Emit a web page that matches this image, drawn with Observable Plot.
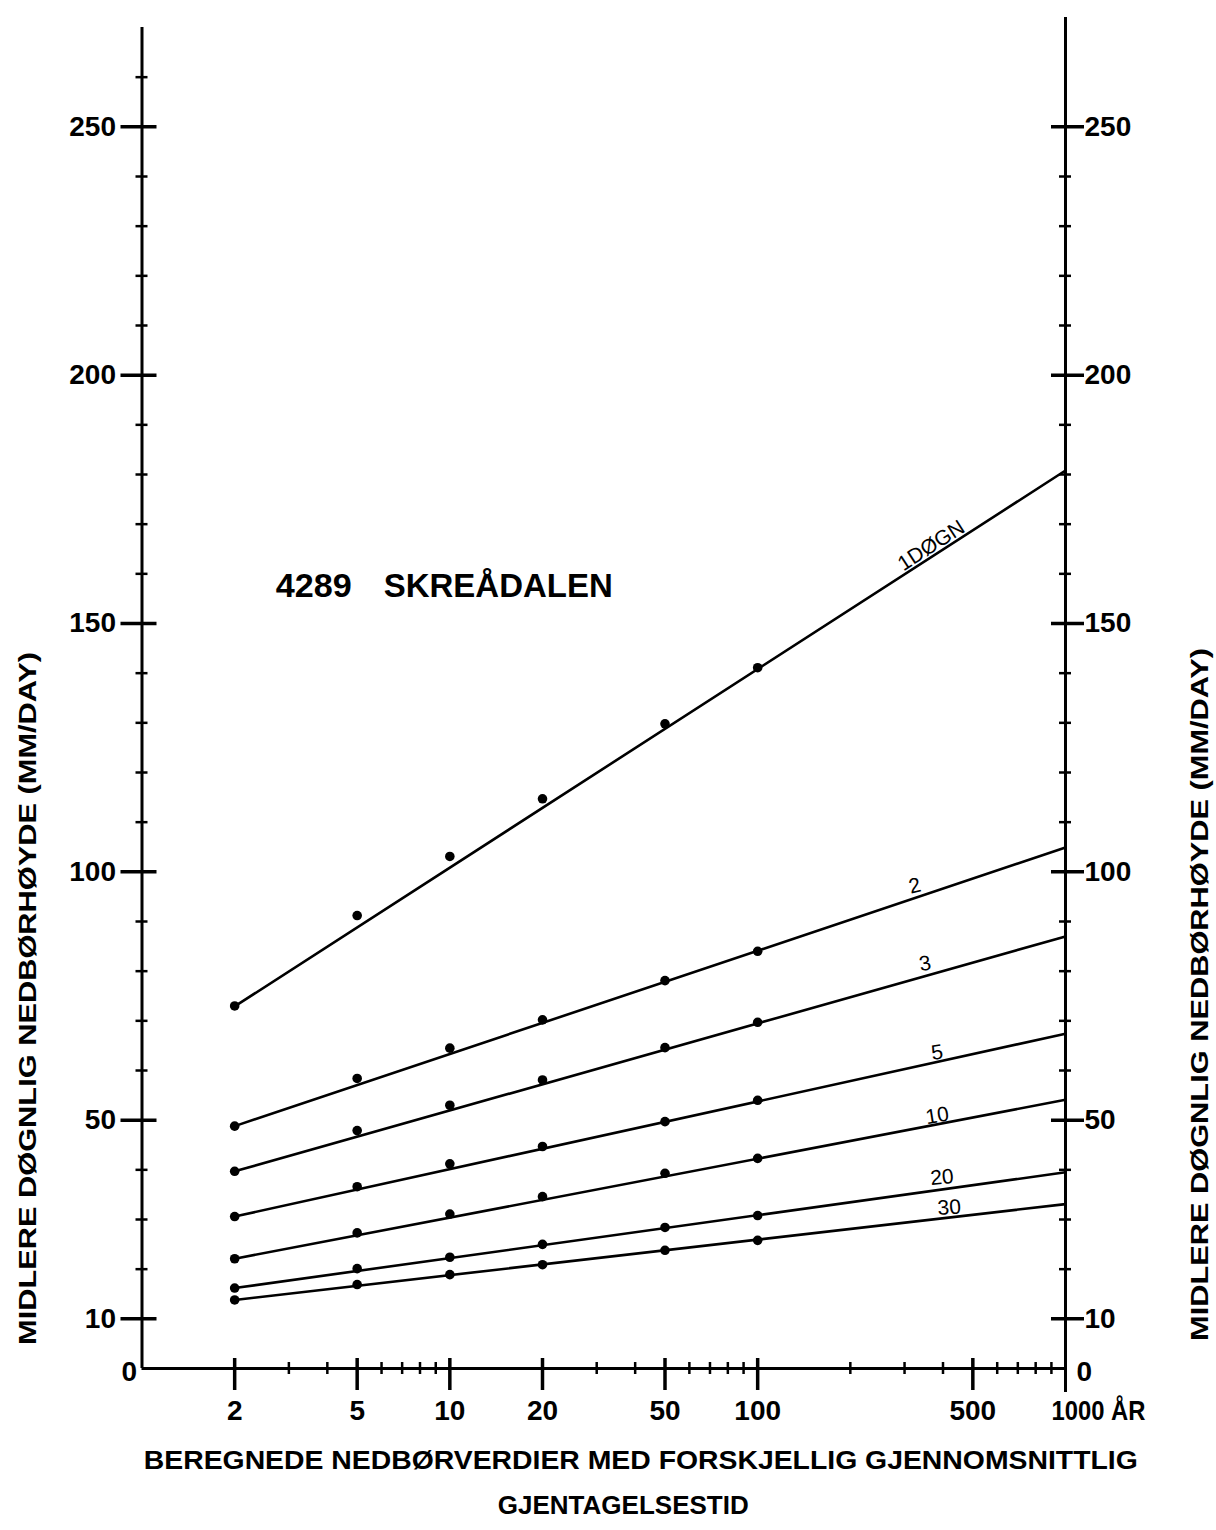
<!DOCTYPE html>
<html>
<head>
<meta charset="utf-8">
<script src="https://cdn.jsdelivr.net/npm/d3@7"></script>
<script src="https://cdn.jsdelivr.net/npm/@observablehq/plot@0.6"></script>
<style>
  html, body { margin: 0; padding: 0; background: #fff; }
  #chart svg { display: block; }
</style>
</head>
<body>
<div id="chart"></div>
<script>
// Station and axis texts
const stationTitle = ["4289", "SKREÅDALEN"];
const yTitle = "MIDLERE DØGNLIG NEDBØRHØYDE (MM/DAY)";
const xTitle1 = "BEREGNEDE NEDBØRVERDIER MED FORSKJELLIG GJENNOMSNITTLIG";
const xTitle2 = "GJENTAGELSESTID";
const xLastLabel = "1000 ÅR";

// Return periods (years) of the computed values
const periods = [2, 5, 10, 20, 50, 100];

// Duration labels (days) of each series
const seriesNames = ["1DØGN", "2", "3", "5", "10", "20", "30"];

// Computed mean daily precipitation (mm/day) at each return period
const dur1 = [73.0, 91.2, 103.1, 114.7, 129.8, 141.1];
const dur2 = [48.8, 58.4, 64.5, 70.2, 78.1, 84.0];
const dur3 = [39.7, 47.9, 53.0, 58.1, 64.6, 69.7];
const dur5 = [30.6, 36.6, 41.2, 44.7, 49.7, 54.0];
const dur10 = [22.1, 27.3, 31.1, 34.6, 39.3, 42.3];
const dur20 = [16.2, 20.1, 22.4, 25.0, 28.4, 30.8];
const dur30 = [13.8, 16.9, 18.9, 20.9, 23.8, 25.8];

// Fitted straight lines: value at 2 years and at 1000 years
const fitPeriods = [2, 1000];
const fit1 = [72.9, 180.8];
const fit2 = [48.8, 104.9];
const fit3 = [39.7, 87.0];
const fit5 = [30.6, 67.4];
const fit10 = [22.1, 54.1];
const fit20 = [16.2, 39.5];
const fit30 = [13.8, 33.1];

// Axis ticks
const yLabelled = [10, 50, 100, 150, 200, 250];
const yMinorLeft = [20, 30, 40, 60, 70, 80, 90, 110, 120, 130, 140, 160, 170, 180, 190, 210, 220, 230, 240, 260];
const yMinorRight = [20, 30, 40, 60, 70, 80, 90, 110, 120, 130, 140, 160, 170, 180, 190, 210, 220, 230, 240];
const xLabelled = [2, 5, 10, 20, 50, 100, 500];
const xMinor = [3, 4, 6, 7, 8, 9, 30, 40, 60, 70, 80, 90, 200, 300, 400, 600, 700, 800, 900];

// Where each series name sits along its line (return period, mm/day, angle)
const labelPeriod = [366, 324, 350, 383, 383, 397, 419];
const labelValue = [165.7, 97.2, 81.5, 63.6, 50.9, 38.5, 32.4];
const labelAngle = [-32.8, -14, -10, -8, -9, -5, -4];

const pointValues = [dur1, dur2, dur3, dur5, dur10, dur20, dur30];
const fitValues = [fit1, fit2, fit3, fit5, fit10, fit20, fit30];

const points = seriesNames.flatMap((s, i) =>
  periods.map((T, j) => ({series: s, T, v: pointValues[i][j]})));
const fits = seriesNames.flatMap((s, i) =>
  fitPeriods.map((T, j) => ({series: s, T, v: fitValues[i][j]})));
const labels = seriesNames.map((s, i) => ({
  text: s, T: labelPeriod[i], v: labelValue[i], angle: labelAngle[i]
}));

const font = "'Liberation Sans', Arial, sans-serif";

const chart = Plot.plot({
  width: 1216,
  height: 1530,
  marginLeft: 141.5,
  marginRight: 151,
  marginTop: 27,
  marginBottom: 162,
  x: {type: "log", domain: [1, 1000], axis: null},
  y: {domain: [0, 270]},
  style: {fontFamily: font, background: "#fff", color: "#000"},
  marks: [
    // axis frame lines
    Plot.ruleX([1], {y1: 270, y2: 0, stroke: "#000", strokeWidth: 3}),
    Plot.ruleX([1000], {y1: 272, y2: 0, stroke: "#000", strokeWidth: 3, insetBottom: -24}),
    Plot.ruleY([0], {x1: 1, x2: 1000, stroke: "#000", strokeWidth: 3}),

    // left axis ticks
    Plot.ruleY(yLabelled, {x1: 1, x2: 1, insetLeft: -21, insetRight: -15, stroke: "#000", strokeWidth: 3.5}),
    Plot.ruleY(yMinorLeft, {x1: 1, x2: 1, insetLeft: -6, insetRight: -6, stroke: "#000", strokeWidth: 2.5}),
    // right axis ticks
    Plot.ruleY(yLabelled, {x1: 1000, x2: 1000, insetLeft: -14, insetRight: -19, stroke: "#000", strokeWidth: 3.5}),
    Plot.ruleY(yMinorRight, {x1: 1000, x2: 1000, insetLeft: -6, insetRight: -6, stroke: "#000", strokeWidth: 2.5}),
    // bottom axis ticks
    Plot.ruleX(xLabelled, {y1: 0, y2: 0, insetTop: -10, insetBottom: -22, stroke: "#000", strokeWidth: 3.5}),
    Plot.ruleX(xMinor, {y1: 0, y2: 0, insetTop: -6, insetBottom: -6, stroke: "#000", strokeWidth: 2.5}),

    // tick labels
    Plot.axisY({anchor: "left", ticks: yLabelled, tickSize: 0, tickPadding: 26, label: null,
      fontSize: 28, fontWeight: "bold", tickFormat: d => String(d)}),
    Plot.axisY({anchor: "right", ticks: yLabelled, tickSize: 0, tickPadding: 19, label: null,
      fontSize: 28, fontWeight: "bold", tickFormat: d => String(d)}),
    Plot.text(xLabelled, {x: d => d, y: 0, text: d => String(d), lineAnchor: "top",
      dy: 32, fontSize: 28, fontWeight: "bold"}),
    Plot.text([xLastLabel], {x: 1000, y: 0, text: d => d, textAnchor: "start", lineAnchor: "top",
      dx: -14, dy: 32, fontSize: 28, fontWeight: "bold"}),
    Plot.text(["0"], {x: 1, y: 0, text: d => d, textAnchor: "end", dx: -5, dy: 4, fontSize: 28, fontWeight: "bold"}),
    Plot.text(["0"], {x: 1000, y: 0, text: d => d, textAnchor: "start", dx: 11, dy: 4, fontSize: 28, fontWeight: "bold"}),

    // fitted lines and computed values
    Plot.line(fits, {x: "T", y: "v", z: "series", stroke: "#000", strokeWidth: 2.6}),
    Plot.dot(points, {x: "T", y: "v", r: 4.8, fill: "#000"}),

    // series names
    Plot.text(labels, {x: "T", y: "v", text: "text", rotate: "angle", fontSize: 21, fill: "#000"}),

    // station title
    Plot.text([stationTitle[0]], {x: 2.72, y: 157.5, text: d => d, textAnchor: "start", fontSize: 34, fontWeight: "bold"}),
    Plot.text([stationTitle[1]], {x: 6.1, y: 157.5, text: d => d, textAnchor: "start", fontSize: 34, fontWeight: "bold"}),

    // axis titles, reading upwards from their first letter
    Plot.text([yTitle], {frameAnchor: "left", textAnchor: "start", dx: -113, dy: 647, rotate: -90,
      text: d => d, fontSize: 23, fontWeight: "bold"}),
    Plot.text([yTitle], {frameAnchor: "right", textAnchor: "start", dx: 135, dy: 643, rotate: -90,
      text: d => d, fontSize: 23, fontWeight: "bold"}),
    Plot.text([xTitle1], {frameAnchor: "bottom", textAnchor: "start", dx: 143 - 603, dy: 100,
      text: d => d, fontSize: 25, fontWeight: "bold"}),
    Plot.text([xTitle2], {frameAnchor: "bottom", textAnchor: "start", dx: 497 - 603, dy: 145,
      text: d => d, fontSize: 25, fontWeight: "bold"})
  ]
});

document.getElementById("chart").appendChild(chart);

// fit the condensed lettering to its printed widths
const svg = d3.select(chart.tagName.toLowerCase() === "svg" ? chart : chart.querySelector("svg"));
const widths = new Map([
  [yTitle, 693], [xTitle1, 994], [xTitle2, 251], [xLastLabel, 94],
  [stationTitle[0], 76], [stationTitle[1], 229]
]);
svg.selectAll("text").each(function () {
  const w = widths.get(this.textContent);
  if (w) d3.select(this).attr("textLength", w).attr("lengthAdjust", "spacingAndGlyphs");
});
</script>
</body>
</html>
